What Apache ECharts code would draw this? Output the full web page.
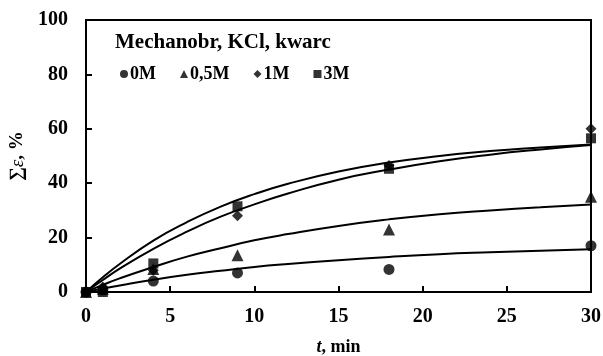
<!DOCTYPE html>
<html>
<head>
<meta charset="utf-8">
<script src="https://cdn.jsdelivr.net/npm/echarts@6/dist/echarts.min.js"></script>
<style>
  html, body { margin: 0; padding: 0; background: #fff; }
  #chart { width: 603px; height: 356px; }
</style>
</head>
<body>
<div id="chart"></div>
<script>
// Measured sampling times, min
const times = [0, 1, 4, 9, 18, 30];
// Measured recovery, %
const m0 = [0, 0.8, 4, 7, 8.3, 17];
const m05 = [0, 1.2, 8.5, 13.5, 23, 35];
const m1 = [0, 1.8, 8, 28, 46.5, 60];
const m3 = [0, 0, 10.5, 31.5, 45.3, 56.5];

// Fitted kinetic curves, sampled along t
const fitTimes = [0, 1, 2, 4, 6, 8, 10, 12, 15, 18, 21, 24, 27, 30];
const fit0 = [0, 1.3, 2.4, 4.5, 6.3, 7.8, 9.2, 10.3, 11.7, 12.9, 13.9, 14.6, 15.2, 15.7];
const fit05 = [0, 2.6, 5.0, 9.2, 13.0, 16.1, 19.0, 21.3, 24.3, 26.7, 28.6, 30.0, 31.2, 32.2];
const fit1 = [0, 4.4, 8.6, 15.9, 22.2, 27.7, 32.2, 36.2, 41.3, 45.0, 48.1, 50.5, 52.4, 54.0];
const fit3 = [0, 5.4, 10.3, 18.9, 25.7, 31.4, 36.0, 39.8, 44.3, 47.6, 50.0, 51.8, 53.1, 54.2];

const xTicks = [0, 5, 10, 15, 20, 25, 30];
const yTicks = [0, 20, 40, 60, 80, 100];

const legendTitle = 'Mechanobr, KCl, kwarc';
const seriesNames = ['0M', '0,5M', '1M', '3M'];

const serif = '"Liberation Serif", "DejaVu Serif", serif';
const pair = (xs, ys) => xs.map((x, i) => [x, ys[i]]);

function markerSeries(name, symbol, size, data) {
  return {
    name, type: 'scatter', symbol, symbolSize: size, clip: false,
    itemStyle: { color: '#000' }, data: pair(times, data), z: 5
  };
}
function curveSeries(data) {
  return {
    type: 'line', smooth: true, showSymbol: false, silent: true,
    lineStyle: { color: '#000', width: 2 }, data: pair(fitTimes, data), z: 3
  };
}

const chart = echarts.init(document.getElementById('chart'), null, { renderer: 'canvas' });
chart.setOption({
  animation: false,
  backgroundColor: '#fff',
  grid: {
    left: 86, right: 12, top: 20, bottom: 64,
    outerBoundsMode: 'none', containLabel: false,
    show: true, borderColor: '#000', borderWidth: 2, backgroundColor: 'transparent'
  },
  graphic: [{
    type: 'text', left: 115, top: 32,
    style: { text: legendTitle, font: 'bold 21px ' + serif, fill: '#000' }
  }],
  legend: {
    left: 115, top: 60, itemGap: 24, itemWidth: 8, itemHeight: 8,
    data: [
      { name: seriesNames[0], icon: 'circle' },
      { name: seriesNames[1], icon: 'triangle' },
      { name: seriesNames[2], icon: 'diamond' },
      { name: seriesNames[3], icon: 'rect' }
    ],
    textStyle: { fontFamily: serif, fontWeight: 'bold', fontSize: 18, color: '#000', padding: [0, 0, 0, -3] },
    itemStyle: { color: '#000' }
  },
  xAxis: {
    type: 'value', min: 0, max: 30, interval: 5,
    name: '{i|t}{n|, min}', nameLocation: 'middle', nameGap: 46,
    nameTextStyle: {
      rich: {
        i: { fontFamily: serif, fontWeight: 'bold', fontStyle: 'italic', fontSize: 18, color: '#000' },
        n: { fontFamily: serif, fontWeight: 'bold', fontSize: 18, color: '#000' }
      }
    },
    axisLine: { lineStyle: { color: '#000', width: 2 } },
    axisTick: { inside: true, length: 6, lineStyle: { color: '#000', width: 2 } },
    splitLine: { show: false },
    axisLabel: {
      margin: 15, color: '#000', fontFamily: serif, fontWeight: 'bold', fontSize: 20,
      formatter: v => xTicks.includes(v) ? String(v) : ''
    }
  },
  yAxis: {
    type: 'value', min: 0, max: 100, interval: 20,
    name: '{a|∑}{b|ε}{a|, %}', nameLocation: 'middle', nameGap: 59, nameRotate: 90,
    nameTextStyle: {
      rich: {
        a: { fontFamily: serif, fontWeight: 'bold', fontSize: 19, color: '#000' },
        b: { fontFamily: serif, fontStyle: 'italic', fontSize: 19, color: '#000' }
      }
    },
    axisLine: { lineStyle: { color: '#000', width: 2 } },
    axisTick: { inside: true, length: 6, lineStyle: { color: '#000', width: 2 } },
    splitLine: { show: false },
    axisLabel: {
      margin: 18, color: '#000', fontFamily: serif, fontWeight: 'bold', fontSize: 20,
      formatter: v => yTicks.includes(v) ? String(v) : ''
    }
  },
  series: [
    curveSeries(fit0), curveSeries(fit05), curveSeries(fit1), curveSeries(fit3),
    markerSeries(seriesNames[0], 'circle', 11, m0),
    markerSeries(seriesNames[1], 'triangle', 12, m05),
    markerSeries(seriesNames[2], 'diamond', 11, m1),
    markerSeries(seriesNames[3], 'rect', 10, m3)
  ]
});
</script>
</body>
</html>
